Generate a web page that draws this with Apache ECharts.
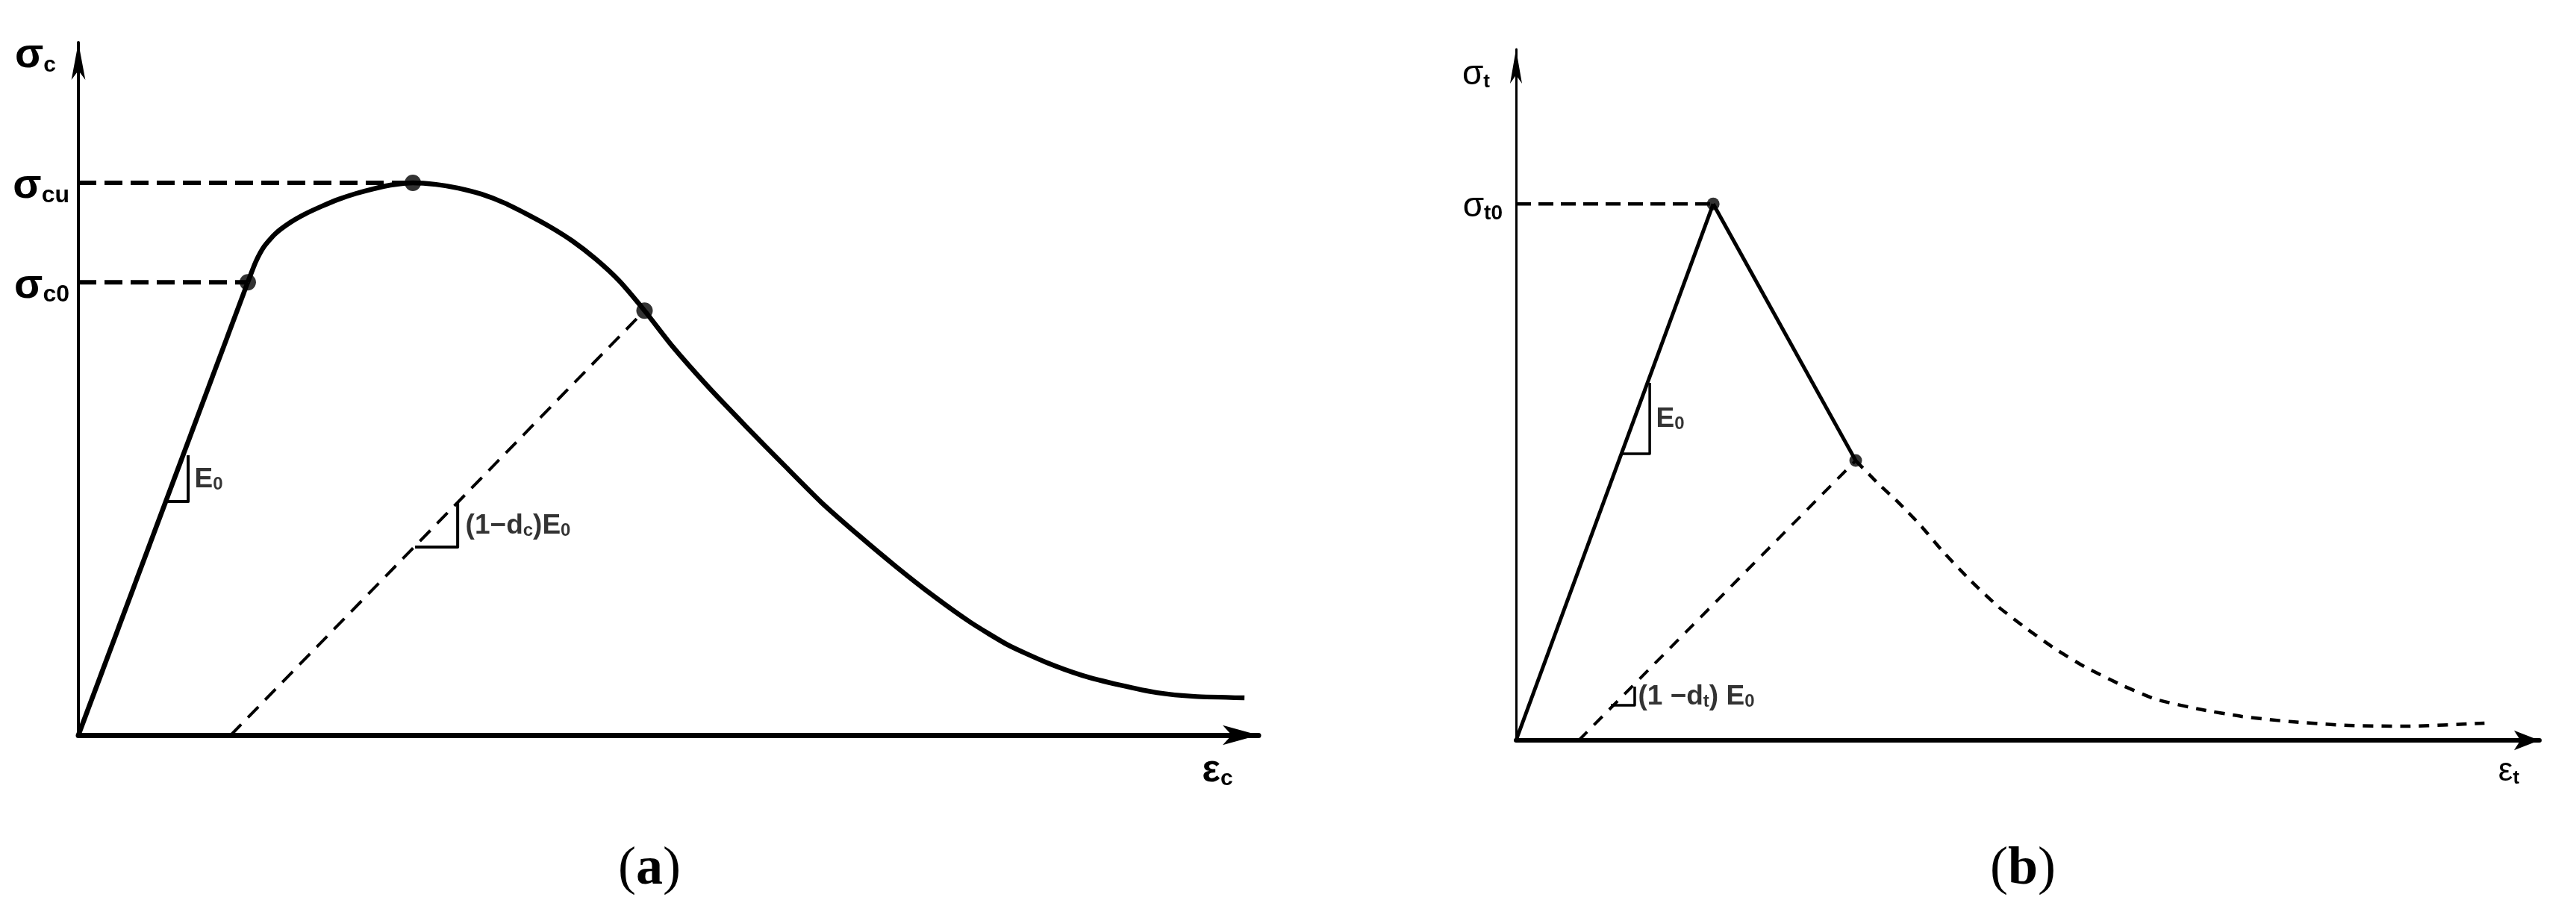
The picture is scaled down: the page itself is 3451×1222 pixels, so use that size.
<!DOCTYPE html>
<html><head><meta charset="utf-8">
<script src="https://cdn.jsdelivr.net/npm/echarts@6/dist/echarts.min.js"></script>
<style>html,body{margin:0;padding:0;background:#fff}#c{width:3451px;height:1222px}</style>
</head><body><div id="c"></div>
<script>
// ---------- Panel (a): compression ----------
const compLinearStrain = [0, 1.134];
const compLinearStress = [0, 25.5];
const compCurveStrain = [1.134, 1.189, 1.244, 1.319, 1.419, 1.514, 1.629, 1.744, 1.859, 1.974, 2.089, 2.239, 2.394, 2.544, 2.699, 2.854, 3.004, 3.158, 3.308, 3.463, 3.618, 3.79, 3.973, 4.223, 4.473, 4.723, 4.973, 5.222, 5.472, 5.722, 5.972, 6.222, 6.472, 6.722, 6.972, 7.221, 7.471, 7.806];
const compCurveStress = [25.5, 26.68, 27.52, 28.24, 28.87, 29.33, 29.78, 30.18, 30.5, 30.76, 30.97, 31.1, 31.01, 30.80, 30.46, 29.96, 29.33, 28.62, 27.82, 26.81, 25.6, 23.9, 21.93, 19.55, 17.35, 15.21, 13.11, 11.26, 9.5, 7.85, 6.35, 5.08, 4.12, 3.36, 2.82, 2.39, 2.18, 2.10];
const compKeyStrain = [1.134, 2.239, 3.79];
const compKeyStress = [25.5, 31.1, 23.9];
const compUnloadStrain = [1.02, 3.79];
const compUnloadStress = [0, 23.9];
const compTickValues = [25.5, 31.1];
const compTickSubs = ['c0', 'cu'];
const compE0TriStrain = [0.595, 0.735, 0.735];
const compE0TriStress = [13.15, 13.15, 15.76];
const compDcTriStrain = [2.254, 2.539, 2.539];
const compDcTriStress = [10.59, 10.59, 13.1];

// ---------- Panel (b): tension ----------
const tensRiseStrain = [0, 1.522];
const tensRiseStress = [0, 3.027];
const tensDropStrain = [1.522, 2.622];
const tensDropStress = [3.027, 1.579];
const tensSoftStrain = [2.622, 2.790, 2.951, 3.118, 3.285, 3.504, 3.723, 3.948, 4.167, 4.386, 4.663, 4.939, 5.268, 5.602, 5.988, 6.427, 6.870, 7.476];
const tensSoftStress = [1.579, 1.453, 1.343, 1.217, 1.074, 0.905, 0.754, 0.627, 0.514, 0.417, 0.316, 0.232, 0.177, 0.135, 0.105, 0.084, 0.080, 0.097];
const tensKeyStrain = [1.522, 2.622];
const tensKeyStress = [3.027, 1.579];
const tensUnloadStrain = [0.484, 2.622];
const tensUnloadStress = [0, 1.579];
const tensTickValues = [3.027];
const tensTickSubs = ['t0'];
const tensE0TriStrain = [0.824, 1.032, 1.032];
const tensE0TriStress = [1.617, 1.617, 2.017];
const tensDtTriStrain = [0.732, 0.916, 0.916];
const tensDtTriStress = [0.198, 0.198, 0.303];

const panelLabels = ['a', 'b'];

const FONT = '"Liberation Sans Narrow", "Liberation Sans", Arial, sans-serif';
const pts = (xs, ys) => xs.map((x, i) => [x, ys[i]]);
const midOfVertical = (xs, ys) => [[xs[2], (ys[1] + ys[2]) / 2]];

function richSigma(big, small, weight) {
  return {
    s: { fontFamily: FONT, fontSize: big, lineHeight: big, color: '#000', verticalAlign: 'bottom', fontWeight: weight || 'normal' },
    sub: { fontFamily: FONT, fontSize: small, lineHeight: Math.round(small * 0.9), color: '#000', verticalAlign: 'bottom', fontWeight: 'bold' }
  };
}

const K = '#000';
function lineSeries(gi, data, width, type, smooth) {
  return {
    type: 'line', xAxisIndex: gi, yAxisIndex: gi, data: data, symbol: 'none', silent: true,
    smooth: smooth || false, animation: false,
    lineStyle: { color: K, width: width, type: type || 'solid', cap: 'butt', join: 'round' }, z: 3
  };
}
function dotSeries(gi, data, size) {
  return { type: 'scatter', xAxisIndex: gi, yAxisIndex: gi, data: data, symbol: 'circle', symbolSize: size,
    itemStyle: { color: K }, silent: true, animation: false, z: 5 };
}
function labelSeries(gi, data, text, rich, dist) {
  return { type: 'scatter', xAxisIndex: gi, yAxisIndex: gi, data: data, symbolSize: 1,
    itemStyle: { color: 'rgba(0,0,0,0)' }, silent: true, animation: false, z: 6,
    label: { show: true, position: 'right', distance: dist, formatter: text, rich: rich, color: K } };
}

const annRich = {
  t: { fontFamily: FONT, fontSize: 37, lineHeight: 40, color: K, verticalAlign: 'bottom', fontWeight: 'bold' },
  sub: { fontFamily: FONT, fontSize: 24, lineHeight: 20, color: K, verticalAlign: 'bottom', fontWeight: 'bold' }
};

const chart = echarts.init(document.getElementById('c'), null, { renderer: 'canvas' });
chart.setOption({
  backgroundColor: '#fff',
  animation: false,
  grid: [
    { left: 105, top: 57, width: 1581, height: 928, containLabel: false, outerBoundsMode: 'none' },
    { left: 2031, top: 66, width: 1371, height: 926, containLabel: false, outerBoundsMode: 'none' }
  ],
  xAxis: [
    { type: 'value', gridIndex: 0, min: 0, max: 7.9,
      axisLine: { show: true, onZero: false, symbol: ['none', 'arrow'], symbolSize: [20, 48], lineStyle: { color: K, width: 7 } },
      axisTick: { show: false }, axisLabel: { show: false }, splitLine: { show: false },
      name: '{s|ε}{sub|c}', nameLocation: 'end', nameGap: -55,
      nameTextStyle: { align: 'center', verticalAlign: 'top', padding: [22, 0, 0, 0], rich: richSigma(52, 30, 'bold') } },
    { type: 'value', gridIndex: 1, min: 0, max: 7.9,
      axisLine: { show: true, onZero: false, symbol: ['none', 'arrow'], symbolSize: [20, 34], lineStyle: { color: K, width: 6 } },
      axisTick: { show: false }, axisLabel: { show: false }, splitLine: { show: false },
      name: '{s|ε}{sub|t}', nameLocation: 'end', nameGap: -41,
      nameTextStyle: { align: 'center', verticalAlign: 'top', padding: [20, 0, 0, 0], rich: richSigma(44, 26) } }
  ],
  yAxis: [
    { type: 'value', gridIndex: 0, min: 0, max: 39,
      axisLine: { show: true, onZero: false, symbol: ['none', 'arrow'], symbolSize: [14, 50], lineStyle: { color: K, width: 4 } },
      axisTick: { show: false }, splitLine: { show: false },
      axisLabel: { show: true, customValues: compTickValues, margin: 12, padding: [10, 0, 0, 0],
        formatter: v => '{s|σ}{sub|' + compTickSubs[compTickValues.indexOf(v)] + '}', rich: richSigma(56, 32, 'bold') },
      name: '{s|σ}{sub|c}', nameLocation: 'end', nameGap: -18,
      nameTextStyle: { align: 'right', verticalAlign: 'middle', padding: [0, 30, 0, 0], rich: richSigma(56, 30, 'bold') } },
    { type: 'value', gridIndex: 1, min: 0, max: 3.9,
      axisLine: { show: true, onZero: false, symbol: ['none', 'arrow'], symbolSize: [12, 46], lineStyle: { color: K, width: 3 } },
      axisTick: { show: false }, splitLine: { show: false },
      axisLabel: { show: true, customValues: tensTickValues, margin: 18, padding: [8, 0, 0, 0],
        formatter: v => '{s|σ}{sub|' + tensTickSubs[tensTickValues.indexOf(v)] + '}', rich: richSigma(46, 28) },
      name: '{s|σ}{sub|t}', nameLocation: 'end', nameGap: -34,
      nameTextStyle: { align: 'right', verticalAlign: 'middle', padding: [0, 35, 0, 0], rich: richSigma(46, 26) } }
  ],
  graphic: panelLabels.map((p, i) => ({
    type: 'text', x: i === 0 ? 870 : 2710, y: 1165, silent: true,
    style: { text: '{p|(}{b|' + p + '}{p|)}', align: 'center', verticalAlign: 'middle',
      rich: {
        p: { fontFamily: '"Liberation Serif", serif', fontSize: 72, color: K },
        b: { fontFamily: '"Liberation Serif", serif', fontSize: 72, fontWeight: 'bold', color: K }
      } }
  })),
  series: [
    // panel a
    lineSeries(0, pts([0, compKeyStrain[1]], [compKeyStress[1], compKeyStress[1]]), 6, [24, 11]),
    lineSeries(0, pts([0, compKeyStrain[0]], [compKeyStress[0], compKeyStress[0]]), 6, [24, 11]),
    lineSeries(0, pts(compUnloadStrain, compUnloadStress), 4, [20, 13]),
    lineSeries(0, pts(compLinearStrain, compLinearStress), 6.5),
    lineSeries(0, pts(compCurveStrain, compCurveStress), 6.5, 'solid', 0.2),
    lineSeries(0, pts(compE0TriStrain, compE0TriStress), 4),
    lineSeries(0, pts(compDcTriStrain, compDcTriStress), 4),
    dotSeries(0, pts(compKeyStrain, compKeyStress), 22),
    labelSeries(0, midOfVertical(compE0TriStrain, compE0TriStress), '{t|E}{sub|0}', annRich, 8),
    labelSeries(0, midOfVertical(compDcTriStrain, compDcTriStress), '{t|(1−d}{sub|c}{t|)E}{sub|0}', annRich, 10),
    // panel b
    lineSeries(1, pts([0, tensKeyStrain[0]], [tensKeyStress[0], tensKeyStress[0]]), 4.5, [20, 10]),
    lineSeries(1, pts(tensUnloadStrain, tensUnloadStress), 4, [16, 13]),
    lineSeries(1, pts(tensSoftStrain, tensSoftStress), 4.5, [14, 11], 0.2),
    lineSeries(1, pts(tensRiseStrain, tensRiseStress), 5),
    lineSeries(1, pts(tensDropStrain, tensDropStress), 5),
    lineSeries(1, pts(tensE0TriStrain, tensE0TriStress), 3.5),
    lineSeries(1, pts(tensDtTriStrain, tensDtTriStress), 3.5),
    dotSeries(1, pts(tensKeyStrain, tensKeyStress), 17),
    labelSeries(1, midOfVertical(tensE0TriStrain, tensE0TriStress), '{t|E}{sub|0}', annRich, 8),
    labelSeries(1, midOfVertical(tensDtTriStrain, tensDtTriStress), '{t|(1 −d}{sub|t}{t|) E}{sub|0}', annRich, 4)
  ]
});
</script></body></html>
